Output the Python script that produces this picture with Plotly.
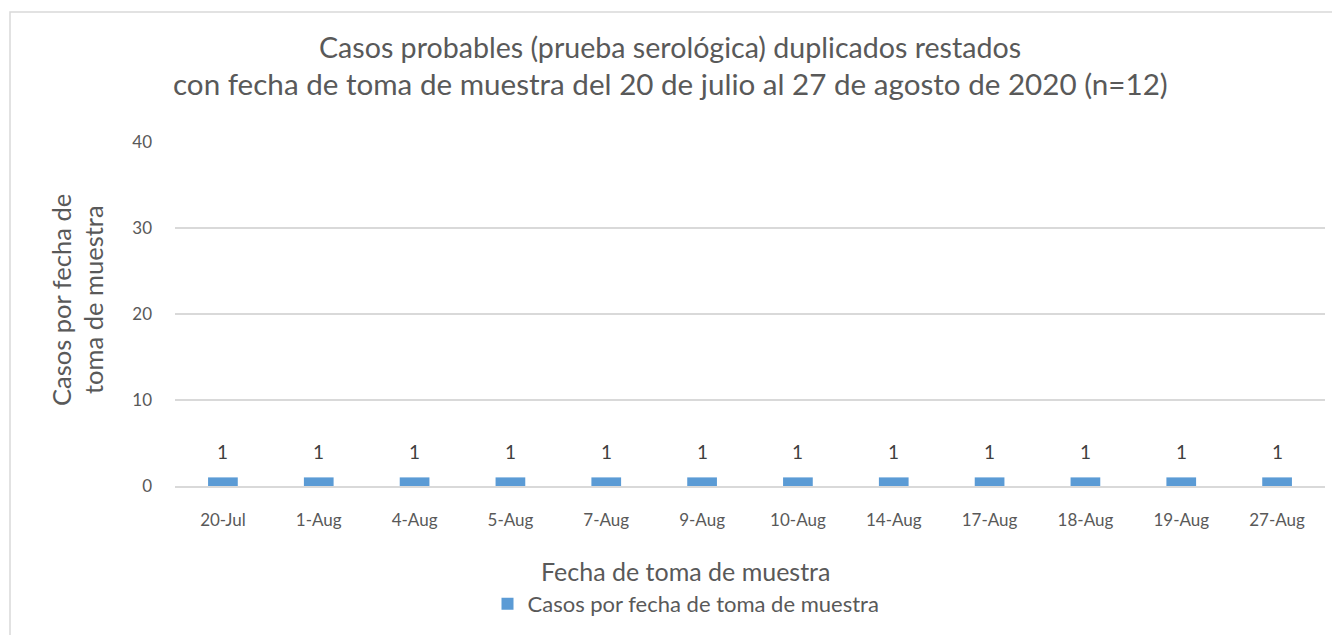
import plotly.graph_objects as go

categories = ["20-Jul", "1-Aug", "4-Aug", "5-Aug", "7-Aug", "9-Aug", "10-Aug",
              "14-Aug", "17-Aug", "18-Aug", "19-Aug", "27-Aug"]
values = [1, 1, 1, 1, 1, 1, 1, 1, 1, 1, 1, 1]
series_name = "Casos por fecha de toma de muestra"
title_lines = ["Casos probables (prueba serológica) duplicados restados",
               "con fecha de toma de muestra del 20 de julio al 27 de agosto de 2020 (n=12)"]
y_title_lines = ["Casos por fecha de", "toma de muestra"]
x_title = "Fecha de toma de muestra"
y_ticks = [0, 10, 20, 30, 40]

OFF = 8  # page body margin
W, H = 1332, 627
# target page-pixel positions of the plot area
PL, PR, PT, PB = 175, 1325, 142, 486
L, T = PL - OFF, PT - OFF
R = W - (PR - OFF)
B = H - (PB - OFF)
PW, PH = PR - PL, PB - PT

def px(x):
    return (x - PL) / PW

def py(y):
    return (PB - y) / PH

FONT = "Lato"
GREY = "#595959"

fig = go.Figure()
fig.add_trace(go.Bar(x=categories, y=values, name=series_name,
                     marker=dict(color="#5b9bd5", line=dict(width=0)),
                     width=0.31, showlegend=True))

annotations = []
for c, v in zip(categories, values):
    annotations.append(dict(x=c, y=v, xref="x", yref="y", text=str(v), showarrow=False,
                            yanchor="bottom", yshift=12,
                            font=dict(family=FONT, size=19, color="#404040")))

for line, yy, sz in zip(title_lines, [47, 84], [28.6, 29.6]):
    annotations.append(dict(x=px(670), y=py(yy), xref="paper", yref="paper",
                            text=line, showarrow=False,
                            xanchor="center", yanchor="middle",
                            font=dict(family=FONT, size=sz, color=GREY)))
for line, xx in zip(y_title_lines, [61, 93]):
    annotations.append(dict(x=px(xx), y=py(300), xref="paper", yref="paper",
                            text=line, showarrow=False,
                            textangle=-90, xanchor="center", yanchor="middle",
                            font=dict(family=FONT, size=25.5, color=GREY)))
annotations.append(dict(x=px(685), y=py(571), xref="paper", yref="paper",
                        text=x_title, showarrow=False,
                        xanchor="center", yanchor="middle",
                        font=dict(family=FONT, size=25, color=GREY)))

fig.update_layout(
    width=W, height=H,
    margin=dict(l=L, r=R, t=T, b=B, autoexpand=False),
    paper_bgcolor="white", plot_bgcolor="white",
    bargap=0.69,
    xaxis=dict(showgrid=False, showline=True, linecolor="#d9d9d9", linewidth=1.5,
               ticks="", tickfont=dict(family=FONT, size=17, color=GREY),
               ticklabelstandoff=18, fixedrange=True),
    yaxis=dict(range=[0, 40], tickvals=y_ticks, showgrid=True, gridcolor="#d9d9d9",
               gridwidth=1.5, zeroline=False, showline=False, ticks="",
               tickfont=dict(family=FONT, size=17, color=GREY),
               ticklabelstandoff=22, fixedrange=True),
    legend=dict(orientation="h", x=px(686), y=py(604), xanchor="center", yanchor="middle",
                font=dict(family=FONT, size=22, color=GREY), itemwidth=30),
    annotations=annotations,
    shapes=[dict(type="rect", xref="paper", yref="paper",
                 x0=px(10), x1=px(1350), y0=py(650), y1=py(12),
                 line=dict(color="#d9d9d9", width=1.5), layer="below")],
)

fig.write_html("out.html")
